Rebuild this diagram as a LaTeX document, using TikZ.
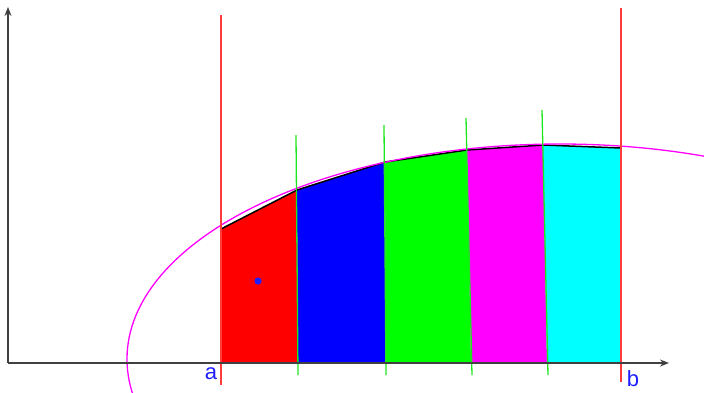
\documentclass[tikz,border=0pt]{standalone}
\usepackage{fontspec}
\setmainfont{Liberation Sans}
\usetikzlibrary{arrows.meta}
\definecolor{lbl}{RGB}{30,30,255}
\definecolor{cRed}{RGB}{255,0,0}
\definecolor{cBlue}{RGB}{0,0,255}
\definecolor{cGreen}{RGB}{0,255,0}
\definecolor{cMag}{RGB}{255,0,255}
\definecolor{cCyan}{RGB}{0,255,255}
\definecolor{cLine}{RGB}{255,60,60}
\definecolor{cDiv}{RGB}{30,230,30}
\tikzset{
  axis/.style={draw=black!75, line width=1.6pt, -{Stealth[length=9pt,width=7pt]}},
  bound/.style={draw=cLine, line width=1.3pt},
  divider/.style={draw=cDiv, line width=1.3pt},
  curve/.style={draw=cMag, line width=1.3pt},
  topline/.style={draw=black, line width=1.5pt},
  lab/.style={text=lbl, font=\fontsize{22}{22}\selectfont, inner sep=0pt}
}
\begin{document}
\begin{tikzpicture}[x=1pt,y=-1pt]
\useasboundingbox (0,0) rectangle (704,392);
\clip (0,0) rectangle (704,392);
% fills
\fill[cRed] (221,363) -- (221,229) -- (297,190) -- (298,363) -- cycle;
\fill[cBlue] (298,363) -- (297,190) -- (385,162) -- (386,363) -- cycle;
\fill[cGreen] (386,363) -- (385,162) -- (467,150) -- (471,363) -- cycle;
\fill[cMag] (471,363) -- (467,150) -- (543,145) -- (547,363) -- cycle;
\fill[cCyan] (547,363) -- (543,145) -- (621,148) -- (621,363) -- cycle;
% top polyline
\draw[topline] (221,229) -- (297,190) -- (385,162) -- (467,150) -- (543,145) -- (621,148);
% curve
\draw[curve] (560,359) ellipse [x radius=433, y radius=215];
% dividers
\draw[divider] (296,135) -- (298,375);
\draw[divider] (384,125) -- (386,375);
\draw[divider] (466,118) -- (472,375);
\draw[divider] (542,110) -- (548,375);
% bounds
\draw[bound] (221,15) -- (221,385);
\draw[bound] (621,8) -- (621,382);
% axes
\coordinate (o) at (8,363);
\coordinate (xe) at (669,363);
\coordinate (ye) at (8,7);
\draw[axis] (o) -- (xe);
\draw[axis] (o) -- (ye);
% point
\fill[lbl] (258,281) circle (3.6);
% labels
\node[lab] (a) at (211,374) {a};
\node[lab] (b) at (633,379) {b};
\end{tikzpicture}
\end{document}
